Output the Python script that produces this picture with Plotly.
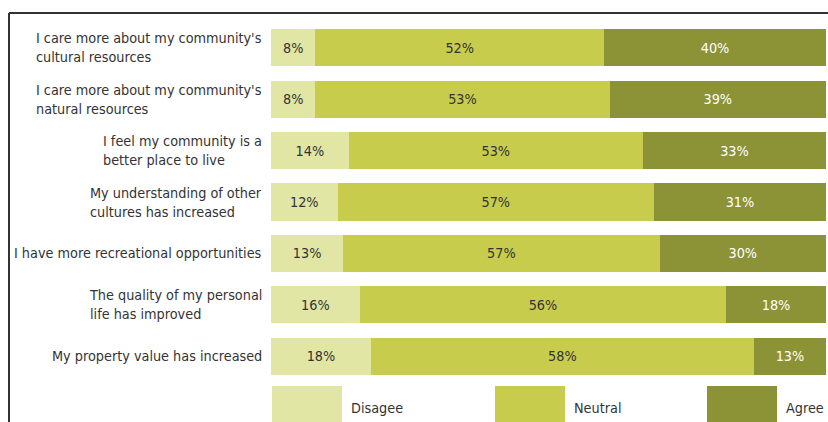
import plotly.graph_objects as go

categories = [
    "I care more about my community's<br>cultural resources",
    "I care more about my community's<br>natural resources",
    "I feel my community is a<br>better place to live",
    "My understanding of other<br>cultures has increased",
    "I have more recreational opportunities",
    "The quality of my personal<br>life has improved",
    "My property value has increased",
]
series_names = ["Disagee", "Neutral", "Agree"]
disagree = [8, 8, 14, 12, 13, 16, 18]
neutral_labels = [52, 53, 53, 57, 57, 56, 58]      # printed values
neutral_drawn = [52, 53, 53, 57, 57, 66, 69]       # drawn segment lengths
agree = [40, 39, 33, 31, 30, 18, 13]

colors = ["#E1E6A4", "#C8CC4C", "#8C9337"]
FONT = "DejaVu Sans Condensed, Liberation Sans Narrow, Arial Narrow, sans-serif"

W, H = 828, 422
L, R, T, B = 271, 2, 22, 40
PW, PH = W - L - R, H - T - B

def px(x):
    return (x - L) / PW

def py(y):
    return 1 - (y - T) / PH

fig = go.Figure()
data = [
    (disagree, [f"{v}%" for v in disagree], "#333333"),
    (neutral_drawn, [f"{v}%" for v in neutral_labels], "#333333"),
    (agree, [f"{v}%" for v in agree], "#FFFFFF"),
]
for name, (vals, txt, tc), col in zip(series_names, data, colors):
    fig.add_trace(go.Bar(
        y=categories, x=vals, orientation="h", name=name,
        marker=dict(color=col, line=dict(width=0)),
        text=txt, textposition="inside", insidetextanchor="middle",
        textangle=0, constraintext="none",
        textfont=dict(family=FONT, size=14.3, color=tc),
        showlegend=False,
    ))

annotations = []
for c in categories:
    annotations.append(dict(
        x=px(264), xref="paper", y=c, yref="y", text=c,
        xanchor="right", yanchor="middle", align="left", showarrow=False,
        font=dict(family=FONT, size=14.3, color="#333333"),
    ))

shapes = []
# legend boxes
leg_x = [272, 495, 707]
for name, col, lx in zip(series_names, colors, leg_x):
    shapes.append(dict(type="rect", xref="paper", yref="paper",
                       x0=px(lx), x1=px(lx + 70), y0=py(422), y1=py(386),
                       fillcolor=col, line=dict(width=0), layer="above"))
    annotations.append(dict(
        x=px(lx + 77), xref="paper", y=py(408), yref="paper", text=name,
        xanchor="left", yanchor="middle", showarrow=False,
        font=dict(family=FONT, size=14.3, color="#333333"),
    ))

# frame lines
shapes.append(dict(type="line", xref="paper", yref="paper",
                   x0=px(9), x1=px(828), y0=py(13), y1=py(13),
                   line=dict(color="#333333", width=2)))
shapes.append(dict(type="line", xref="paper", yref="paper",
                   x0=px(9), x1=px(9), y0=py(13), y1=py(422),
                   line=dict(color="#333333", width=2)))

fig.update_layout(
    width=W, height=H, barmode="stack", bargap=0.28,
    margin=dict(l=L, r=R, t=T, b=B, pad=0),
    paper_bgcolor="white", plot_bgcolor="white",
    xaxis=dict(range=[0, 100], visible=False, fixedrange=True),
    yaxis=dict(autorange="reversed", showticklabels=False, showgrid=False,
               zeroline=False, showline=False, ticks=""),
    annotations=annotations, shapes=shapes,
    uniformtext=dict(mode=False),
)
fig.write_html("out.html")
